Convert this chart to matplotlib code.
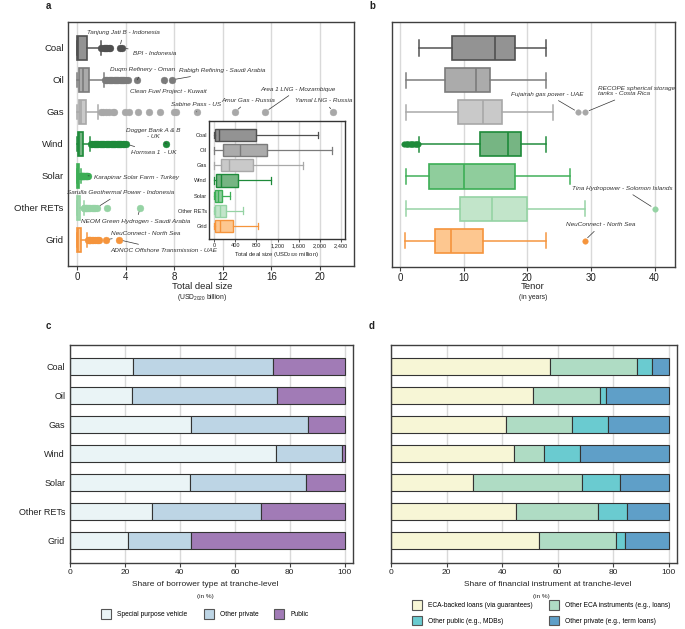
import matplotlib
matplotlib.use('Agg')
import matplotlib.pyplot as plt
from matplotlib.patches import Patch

plt.rcParams['font.family'] = ['Liberation Sans', 'DejaVu Sans']
plt.rcParams['mathtext.fontset'] = 'custom'
plt.rcParams['mathtext.rm'] = 'Liberation Sans'
plt.rcParams['mathtext.it'] = 'Liberation Sans:italic'

# ---------------- data ----------------
categories = ['Coal', 'Oil', 'Gas', 'Wind', 'Solar', 'Other RETs', 'Grid']

# total deal size box statistics (USD2020 million)
deal_whislo = [0, 0, 0, 0, 0, 0, 0]
deal_q1 = [10, 160, 125, 40, 5, 10, 10]
deal_med = [90, 480, 285, 125, 65, 110, 100]
deal_q3 = [790, 1000, 740, 445, 140, 230, 355]
deal_whishi = [1960, 2230, 1690, 1070, 300, 537, 826]

# outlying deals (USD2020 billion)
coal_fliers = [1.95, 2.2, 2.3, 2.4, 2.5, 2.6, 2.7, 3.5, 3.7]
oil_fliers = [2.3, 2.4, 2.5, 2.6, 2.7, 2.8, 2.9, 3.0, 3.1, 3.2, 3.3, 3.4, 3.5,
              3.6, 3.7, 3.8, 3.9, 4.0, 4.15, 4.95, 7.15, 7.8]
gas_fliers = [1.95, 2.15, 2.4, 2.65, 2.95, 3.05, 3.95, 4.3, 5.05, 5.95, 6.8,
              7.95, 8.15, 9.85, 13.0, 15.5, 21.1]
wind_fliers = [1.15, 1.25, 1.35, 1.45, 1.55, 1.65, 1.75, 1.85, 1.95, 2.05, 2.15,
               2.25, 2.35, 2.45, 2.55, 2.65, 2.75, 2.85, 2.95, 3.05, 3.15, 3.25,
               3.35, 3.45, 3.55, 3.65, 3.75, 3.85, 4.0, 7.35]
solar_fliers = [0.3, 0.33, 0.36, 0.4, 0.44, 0.48, 0.52, 0.56, 0.6, 0.65, 0.7,
                0.75, 0.8, 0.85, 0.9]
other_fliers = [0.55, 0.6, 0.65, 0.7, 0.75, 0.8, 0.9, 1.0, 1.1, 1.2, 1.3, 1.4,
                1.5, 1.6, 2.5, 5.2]
grid_fliers = [0.9, 0.95, 1.0, 1.05, 1.1, 1.2, 1.3, 1.5, 1.6, 1.7, 1.8, 2.35, 3.45]
deal_fliers = [coal_fliers, oil_fliers, gas_fliers, wind_fliers, solar_fliers,
               other_fliers, grid_fliers]

# tenor box statistics (years)
tenor_whislo = [3.0, 1.0, 1.0, 3.0, 1.0, 1.0, 0.8]
tenor_q1 = [8.1, 7.1, 9.1, 12.5, 4.5, 9.5, 5.5]
tenor_med = [15.0, 12.0, 13.1, 17.0, 10.0, 14.5, 8.0]
tenor_q3 = [18.0, 14.2, 16.0, 19.0, 18.0, 20.0, 13.0]
tenor_whishi = [23.0, 23.0, 24.0, 23.0, 26.75, 29.0, 23.0]
tenor_fliers = [[], [], [28.0, 29.1],
                [0.7, 0.9, 1.1, 1.3, 1.5, 1.7, 1.9, 2.1, 2.3, 2.5, 2.7, 2.9],
                [], [40.0], [29.0]]

# borrower type shares (%)
spv_share = [22.9, 22.6, 43.9, 75.1, 43.7, 29.9, 21.0]
other_private_share = [51.1, 52.7, 42.6, 24.0, 42.3, 39.7, 23.2]
public_share = [26.0, 24.7, 13.5, 0.9, 14.0, 30.4, 55.8]
borrower_labels = ['Special purpose vehicle', 'Other private', 'Public']

# financial instrument shares (%)
eca_backed_share = [57.2, 51.3, 41.3, 44.2, 29.6, 44.9, 53.3]
other_eca_share = [31.3, 23.9, 24.0, 10.8, 39.3, 29.6, 27.7]
other_public_share = [5.4, 2.4, 12.8, 12.9, 13.5, 10.5, 3.1]
other_private_instr_share = [6.1, 22.4, 21.9, 32.1, 17.6, 15.0, 15.9]
instrument_labels = ['ECA-backed loans (via guarantees)',
                     'Other ECA instruments (e.g., loans)',
                     'Other public (e.g., MDBs)',
                     'Other private (e.g., term loans)']

main_ticks = [0, 4, 8, 12, 16, 20]
inset_ticks = [0, 400, 800, 1200, 1600, 2000, 2400]
inset_ticklabels = ['0', '400', '800', '1,200', '1,600', '2,000', '2,400']
tenor_ticks = [0, 10, 20, 30, 40]
share_ticks = [0, 20, 40, 60, 80, 100]

# ---------------- style ----------------
face = ['#939393', '#ababab', '#c9c9c9', '#76b583', '#8fcd9c', '#c2e5ca', '#fdc790']
edge = ['#505050', '#7b7b7b', '#a8a8a8', '#1e8a3a', '#3dae56', '#95d3a4', '#f5943c']
c_cols = ['#eaf4f6', '#bdd5e5', '#a17bb6']
d_cols = ['#f7f6d6', '#afdcc4', '#6acbd0', '#5f9fc8']
SPINE = '#3f3f3f'
GRID = '#d9d9d9'
TXT = '#222222'

fig = plt.figure(figsize=(6.85, 6.29), dpi=100)

ax_a = fig.add_axes([0.0993, 0.5771, 0.4175, 0.3879])
ax_b = fig.add_axes([0.5723, 0.5755, 0.4131, 0.3895])
ax_in = fig.add_axes([0.3051, 0.6200, 0.1985, 0.1876])
ax_c = fig.add_axes([0.1022, 0.1049, 0.4131, 0.3466])
ax_d = fig.add_axes([0.5708, 0.1049, 0.4175, 0.3466])

pos = list(range(len(categories)))


def style_axes(ax, lw=1.0):
    for s in ax.spines.values():
        s.set_color(SPINE)
        s.set_linewidth(lw)
    ax.set_axisbelow(True)
    ax.grid(axis='x', color=GRID, linewidth=1.0)
    ax.grid(axis='y', visible=False)


def draw_boxes(ax, stats, width, lw, ms, fliers=True, capw=None):
    kw = dict(positions=pos, widths=width, patch_artist=True,
              showfliers=fliers, manage_ticks=False,
              capwidths=capw if capw is not None else width * 0.6)
    try:
        bp = ax.bxp(stats, orientation='horizontal', **kw)
    except TypeError:
        bp = ax.bxp(stats, vert=False, **kw)
    for i in range(len(stats)):
        bp['boxes'][i].set(facecolor=face[i], edgecolor=edge[i], linewidth=lw)
        bp['medians'][i].set(color=edge[i], linewidth=lw)
        for w in bp['whiskers'][2 * i:2 * i + 2]:
            w.set(color=edge[i], linewidth=lw * 0.9)
        for c in bp['caps'][2 * i:2 * i + 2]:
            c.set(color=edge[i], linewidth=lw * 0.9)
        if fliers:
            bp['fliers'][i].set(marker='o', markerfacecolor=edge[i],
                                markeredgecolor=edge[i], markersize=ms,
                                markeredgewidth=0.3, linestyle='none')
    return bp


def note(ax, text, xy, xytext, ha='center', fs=4.6):
    ax.annotate(text, xy=xy, xytext=xytext, textcoords='data', ha=ha,
                va='center', fontsize=fs, style='italic', color='#333333',
                arrowprops=dict(arrowstyle='-', color='#333333', lw=0.5,
                                shrinkA=1.5, shrinkB=3))


# ---------------- panel a ----------------
stats_a = []
for i in pos:
    stats_a.append(dict(whislo=deal_whislo[i] / 1000, q1=deal_q1[i] / 1000,
                        med=deal_med[i] / 1000, q3=deal_q3[i] / 1000,
                        whishi=deal_whishi[i] / 1000, fliers=deal_fliers[i]))
style_axes(ax_a)
draw_boxes(ax_a, stats_a, 0.75, 1.2, 4.9)
ax_a.set_xlim(-0.75, 22.8)
ax_a.set_ylim(6.82, -0.81)
ax_a.set_yticks(pos)
ax_a.set_yticklabels(categories)
ax_a.set_xticks(main_ticks)
ax_a.tick_params(axis='y', length=0, labelsize=6.8, pad=3, colors=TXT)
ax_a.tick_params(axis='x', length=3, width=0.8, color=SPINE, labelsize=7.0,
                 pad=1.5, labelcolor=TXT)

note(ax_a, 'Tanjung Jati B - Indonesia', (3.5, 0), (3.8, -0.47))
note(ax_a, 'BPI - Indonesia', (3.7, 0), (4.6, 0.16), ha='left')
note(ax_a, 'Duqm Refinery - Oman', (4.95, 1), (5.4, 0.69))
note(ax_a, 'Rabigh Refining - Saudi Arabia', (7.8, 1), (8.4, 0.72), ha='left')
note(ax_a, 'Clean Fuel Project - Kuwait', (7.15, 1), (7.5, 1.35))
note(ax_a, 'Sabine Pass - US', (9.85, 2), (9.8, 1.76))
note(ax_a, 'Amur Gas - Russia', (13.0, 2), (14.1, 1.64))
note(ax_a, 'Area 1 LNG - Mozambique', (15.5, 2), (18.2, 1.29))
note(ax_a, 'Yamal LNG - Russia', (21.1, 2), (20.3, 1.64))
note(ax_a, 'Dogger Bank A & B\n- UK', (7.35, 3), (6.25, 2.67))
note(ax_a, 'Hornsea 1  - UK', (4.0, 3), (4.45, 3.27), ha='left')
note(ax_a, 'Karapinar Solar Farm - Turkey', (0.9, 4), (1.4, 4.06), ha='left')
note(ax_a, 'Sarulla Geothermal Power - Indonesia', (1.6, 5), (3.55, 4.53))
note(ax_a, 'NEOM Green Hydrogen - Saudi Arabia', (5.2, 5), (4.85, 5.44))
note(ax_a, 'NeuConnect - North Sea', (2.35, 6), (2.8, 5.79), ha='left')
note(ax_a, 'ADNOC Offshore Transmission - UAE', (3.45, 6), (2.7, 6.32), ha='left')

# inset
stats_in = []
for i in pos:
    stats_in.append(dict(whislo=deal_whislo[i], q1=deal_q1[i], med=deal_med[i],
                         q3=deal_q3[i], whishi=deal_whishi[i], fliers=[]))
style_axes(ax_in, lw=1.0)
for s in ax_in.spines.values():
    s.set_color('#333333')
ax_in.set_facecolor('white')
draw_boxes(ax_in, stats_in, 0.8, 1.0, 0, fliers=False, capw=0.45)
ax_in.set_xlim(-100, 2480)
ax_in.set_ylim(6.86, -0.92)
ax_in.set_yticks(pos)
ax_in.set_yticklabels(categories)
ax_in.set_xticks(inset_ticks)
ax_in.set_xticklabels(inset_ticklabels)
ax_in.tick_params(axis='y', length=0, labelsize=4.1, pad=1.5, colors=TXT)
ax_in.tick_params(axis='x', length=2, width=0.6, color=SPINE, labelsize=4.1,
                  pad=1, labelcolor=TXT)
ax_in.set_xlabel('Total deal size (USD$_{2020}$ million)', fontsize=4.2,
                 labelpad=1.5, color=TXT)

# ---------------- panel b ----------------
stats_b = []
for i in pos:
    stats_b.append(dict(whislo=tenor_whislo[i], q1=tenor_q1[i], med=tenor_med[i],
                        q3=tenor_q3[i], whishi=tenor_whishi[i],
                        fliers=tenor_fliers[i]))
style_axes(ax_b)
draw_boxes(ax_b, stats_b, 0.75, 1.2, 4.0, capw=0.47)
ax_b.set_xlim(-1.25, 43.2)
ax_b.set_ylim(6.82, -0.81)
ax_b.set_yticks([])
ax_b.set_xticks(tenor_ticks)
ax_b.tick_params(axis='x', length=3, width=0.8, color=SPINE, labelsize=7.0,
                 pad=1.5, labelcolor=TXT)
note(ax_b, 'Fujairah gas power - UAE', (28.0, 2), (23.2, 1.44))
note(ax_b, 'RECOPE spherical storage\ntanks - Costa Rica', (29.1, 2), (31.1, 1.34),
     ha='left')
note(ax_b, 'Tina Hydropower - Solomon Islands', (40.0, 5), (35.0, 4.37))
note(ax_b, 'NeuConnect - North Sea', (29.0, 6), (31.6, 5.5))

# ---------------- panel c ----------------
style_axes(ax_c)
left = [0.0] * 7
for vals, col in zip([spv_share, other_private_share, public_share], c_cols):
    ax_c.barh(pos, vals, left=left, height=0.58, color=col, edgecolor='#333333',
              linewidth=0.8)
    left = [l + v for l, v in zip(left, vals)]
ax_c.set_xlim(0, 103)
ax_c.set_ylim(6.76, -0.74)
ax_c.set_yticks(pos)
ax_c.set_yticklabels(categories)
ax_c.set_xticks(share_ticks)
ax_c.tick_params(axis='y', length=0, labelsize=6.5, pad=3.5, colors=TXT)
ax_c.tick_params(axis='x', length=3, width=0.8, color=SPINE, labelsize=6.0,
                 pad=1.5, labelcolor=TXT)

# ---------------- panel d ----------------
style_axes(ax_d)
left = [0.0] * 7
for vals, col in zip([eca_backed_share, other_eca_share, other_public_share,
                      other_private_instr_share], d_cols):
    ax_d.barh(pos, vals, left=left, height=0.58, color=col, edgecolor='#333333',
              linewidth=0.8)
    left = [l + v for l, v in zip(left, vals)]
ax_d.set_xlim(0, 103)
ax_d.set_ylim(6.76, -0.74)
ax_d.set_yticks([])
ax_d.set_xticks(share_ticks)
ax_d.tick_params(axis='x', length=3, width=0.8, color=SPINE, labelsize=6.0,
                 pad=1.5, labelcolor=TXT)

# ---------------- labels ----------------
for x, y, t in [(0.070, 0.99, 'a'), (0.543, 0.99, 'b'),
                (0.070, 0.482, 'c'), (0.543, 0.482, 'd')]:
    fig.text(x, y, t, fontsize=7, fontweight='bold', ha='center', va='center',
             color=TXT)

fig.text(0.295, 0.544, 'Total deal size', fontsize=6.8, ha='center',
         va='center', color=TXT)
fig.text(0.295, 0.527, '(USD$_{2020}$ billion)', fontsize=4.9, ha='center',
         va='center', color=TXT)
fig.text(0.778, 0.544, 'Tenor', fontsize=6.8, ha='center', va='center', color=TXT)
fig.text(0.778, 0.527, '(in years)', fontsize=4.9, ha='center', va='center',
         color=TXT)
fig.text(0.300, 0.071, 'Share of borrower type at tranche-level', fontsize=6.0,
         ha='center', va='center', color=TXT)
fig.text(0.300, 0.051, '(in %)', fontsize=4.6, ha='center', va='center', color=TXT)
fig.text(0.799, 0.071, 'Share of financial instrument at tranche-level',
         fontsize=6.0, ha='center', va='center', color=TXT)
fig.text(0.790, 0.051, '(in %)', fontsize=4.6, ha='center', va='center', color=TXT)

handles_c = [Patch(facecolor=c, edgecolor='#555555', linewidth=0.8) for c in c_cols]
fig.legend(handles_c, borrower_labels, loc='center', bbox_to_anchor=(0.299, 0.024),
           ncol=3, frameon=False, fontsize=4.8, handlelength=1.5,
           handleheight=1.8, handletextpad=0.9, columnspacing=2.4)

order = [0, 2, 1, 3]
handles_d = [Patch(facecolor=d_cols[k], edgecolor='#555555', linewidth=0.8)
             for k in order]
fig.legend(handles_d, [instrument_labels[k] for k in order], loc='center',
           bbox_to_anchor=(0.790, 0.026), ncol=2, frameon=False, fontsize=4.8,
           handlelength=1.5, handleheight=1.8, handletextpad=0.9,
           columnspacing=2.4, labelspacing=0.9)

fig.savefig('out.png', dpi=100)
